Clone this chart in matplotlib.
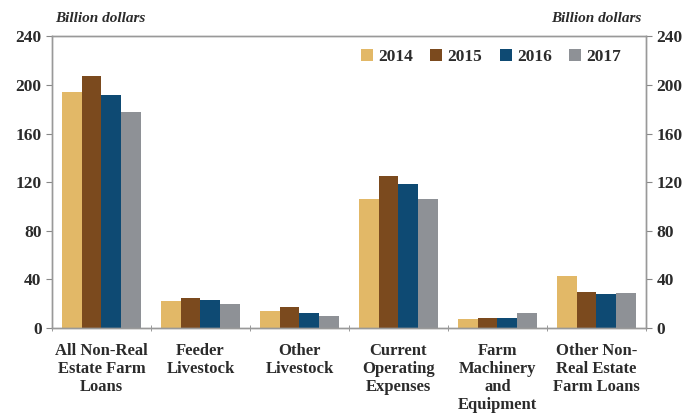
import matplotlib
matplotlib.use("Agg")
import matplotlib.pyplot as plt
import numpy as np

categories = ["All Non-Real\nEstate Farm\nLoans", "Feeder\nLivestock", "Other\nLivestock",
              "Current\nOperating\nExpenses", "Farm\nMachinery\nand\nEquipment",
              "Other Non-\nReal Estate\nFarm Loans"]
years = ["2014", "2015", "2016", "2017"]
v2014 = [194, 22.5, 14, 106, 7, 43]
v2015 = [207, 25, 17, 125.5, 8.5, 30]
v2016 = [192, 23, 12, 118.5, 8.5, 28]
v2017 = [178, 20, 10, 106, 12, 28.5]
colors = ["#E2B867", "#7B4A1E", "#0E4A73", "#8E9196"]
yticks = [0, 40, 80, 120, 160, 200, 240]

plt.rcParams['font.family'] = ['Liberation Serif', 'DejaVu Serif']
plt.rcParams['font.weight'] = 'bold'
txtcol = '#2b2b2b'

fig = plt.figure(figsize=(6.92, 4.13), dpi=100)
ax = fig.add_axes([0.0751, 0.2058, 0.8584, 0.7061])

x = np.arange(len(categories))
w = 0.2
for j, (vals, c, yr) in enumerate(zip([v2014, v2015, v2016, v2017], colors, years)):
    ax.bar(x + (j - 1.5) * w, vals, width=w, color=c, label=yr, linewidth=0)

ax.set_xlim(-0.5, len(categories) - 0.5)
ax.set_ylim(0, 240)
ax.set_yticks(yticks)
ax.set_xticks(x)
ax.set_xticklabels(categories, fontsize=12, linespacing=1.15, fontweight='bold', color=txtcol)
ax.tick_params(axis='x', length=0, pad=11)
ax.set_xticks(np.arange(-0.5, len(categories)), minor=True)
ax.tick_params(axis='x', which='minor', length=4, direction='inout', color='#888888')
ax.tick_params(axis='y', length=4, direction='out', color='#888888', labelsize=12.5, labelcolor=txtcol)

for s in ax.spines.values():
    s.set_color('#999999')
    s.set_linewidth(1.0)

ax2 = ax.twinx()
ax2.set_ylim(0, 240)
ax2.set_yticks(yticks)
ax2.tick_params(axis='y', length=4, direction='out', color='#888888', labelsize=12.5, labelcolor=txtcol)
for s in ax2.spines.values():
    s.set_color('#999999')
    s.set_linewidth(1.0)

fig.text(0.079, 0.955, "Billion dollars", fontsize=11, fontstyle='italic', fontweight='bold', ha='left', va='center', color=txtcol)
fig.text(0.927, 0.955, "Billion dollars", fontsize=11, fontstyle='italic', fontweight='bold', ha='right', va='center', color=txtcol)

leg = ax.legend(loc='upper right', ncol=4, frameon=False, fontsize=12.5, handlelength=0.7, handleheight=0.7,
                handletextpad=0.3, columnspacing=1.0, bbox_to_anchor=(0.985, 1.01))
for t in leg.get_texts():
    t.set_color(txtcol)

fig.savefig("out.png", dpi=100)
